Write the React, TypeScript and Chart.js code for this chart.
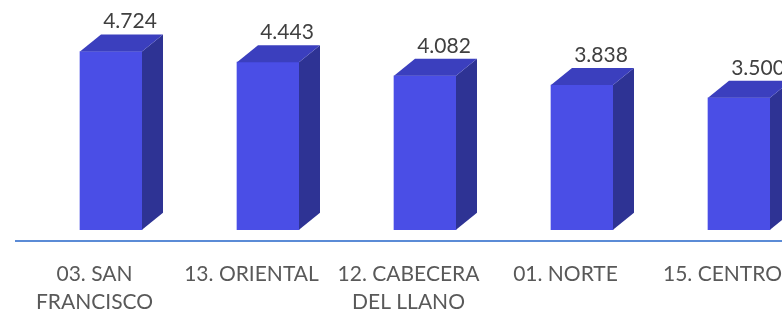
import React, { useEffect, useRef } from 'react';
import { Chart, registerables } from 'chart.js';

Chart.register(...registerables);

const categories: string[][] = [
  ['03. SAN', 'FRANCISCO'],
  ['13. ORIENTAL'],
  ['12. CABECERA', 'DEL LLANO'],
  ['01. NORTE'],
  ['15. CENTRO'],
];
const values: number[] = [4724, 4443, 4082, 3838, 3500];
const valueLabels: string[] = ['4.724', '4.443', '4.082', '3.838', '3.500'];

const FRONT = '#4A4EE6';
const SIDE = '#2E3394';
const TOP = '#3B3FBE';
const SHIFT = 16.5;
const DX = 21;
const DY = 17;
const FONT = 'Lato, "Open Sans", sans-serif';

const bar3d = {
  id: 'bar3d',
  beforeDatasetsDraw(chart: any) {
    chart.ctx.save();
    chart.ctx.translate(SHIFT, 0);
  },
  afterDatasetsDraw(chart: any) {
    const ctx = chart.ctx as CanvasRenderingContext2D;
    const meta = chart.getDatasetMeta(0);
    meta.data.forEach((bar: any, i: number) => {
      const { x, y, base, width } = bar.getProps(['x', 'y', 'base', 'width'], true);
      const x1 = x - width / 2;
      const x2 = x + width / 2;
      ctx.fillStyle = SIDE;
      ctx.beginPath();
      ctx.moveTo(x2, base);
      ctx.lineTo(x2 + DX, base - DY);
      ctx.lineTo(x2 + DX, y - DY);
      ctx.lineTo(x2, y);
      ctx.closePath();
      ctx.fill();
      ctx.fillStyle = TOP;
      ctx.beginPath();
      ctx.moveTo(x1, y);
      ctx.lineTo(x1 + DX, y - DY);
      ctx.lineTo(x2 + DX, y - DY);
      ctx.lineTo(x2, y);
      ctx.closePath();
      ctx.fill();
      ctx.fillStyle = '#404040';
      ctx.font = `21px ${FONT}`;
      ctx.textAlign = 'center';
      ctx.textBaseline = 'middle';
      ctx.fillText(valueLabels[i], x + 19, y - DY - 13);
    });
    ctx.restore();
  },
};

export default function App() {
  const ref = useRef<HTMLCanvasElement | null>(null);
  useEffect(() => {
    document.body.style.margin = '0';
    const canvas = ref.current!;
    const chart = new Chart(canvas, {
      type: 'bar',
      data: {
        labels: categories,
        datasets: [
          {
            data: values,
            backgroundColor: FRONT,
            barThickness: 62,
            borderWidth: 0,
            clip: false as any,
          },
        ],
      },
      options: {
        responsive: false,
        animation: false,
        devicePixelRatio: 1,
        layout: { padding: { left: 16, right: 19, top: 3.5, bottom: 3.5 } },
        plugins: { legend: { display: false }, tooltip: { enabled: false } },
        scales: {
          x: {
            grid: { display: false, drawTicks: false },
            border: { display: true, color: '#5B8BD6', width: 2 },
            ticks: {
              color: '#595959',
              font: { family: FONT, size: 21, lineHeight: 28 / 21 },
              padding: 19.5,
              maxRotation: 0,
              autoSkip: false,
            },
            afterFit(scale: any) {
              scale.height = 75.5;
            },
          },
          y: { display: false, min: -300, max: 6000 },
        },
      },
      plugins: [bar3d],
    });
    return () => chart.destroy();
  }, []);
  return (
    <div style={{ position: 'fixed', left: 0, top: 0, width: 782, height: 312, overflow: 'hidden', background: '#fff' }}>
      <canvas ref={ref} width={820} height={320} style={{ display: 'block' }} />
    </div>
  );
}
